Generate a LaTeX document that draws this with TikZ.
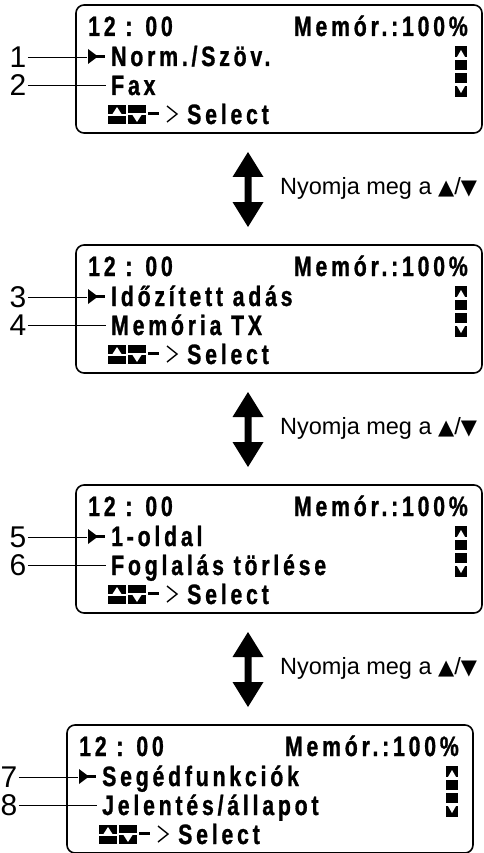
\documentclass[tikz,border=0pt]{standalone}
\usepackage{fontspec}
\setmainfont{Liberation Sans}
\newfontfamily\lcdfont[LetterSpace=13.5,FakeStretch=0.76,
  BoldFeatures={FakeBold=1}]{Liberation Sans}
\newfontfamily\symfont{DejaVu Sans}

\begin{document}
\begin{tikzpicture}[x=1pt,y=-1pt,
lcd/.style = {font=\lcdfont\bfseries\fontsize{28}{30}\selectfont,
     inner sep=0pt, anchor=base west},
lcd R/.style = {lcd, anchor=base east},
callout/.style = {font=\fontsize{30}{32}\selectfont,
     inner sep=0pt, outer sep=1.5pt},
leader/.style = {line width=0.9pt},
frame/.style = {draw, line width=1.6pt, rounded corners=8pt},
hint/.style = {font=\fontsize{23.5}{26}\selectfont,
     inner sep=0pt, anchor=west}]

\useasboundingbox (0,0) rectangle (483,853);

% the four display screens
\foreach \k/\dx/\dy/\la/\lb/\ta/\tb in {1/0/0/1/2/{Norm./Szöv.}/Fax,
    2/0/240/3/4/{Időzített adás}/{Memória TX},
    3/0/480/5/6/1-oldal/{Foglalás törlése},
    4/-9/720/7/8/Segédfunkciók/{Jelentés/állapot}} {
  \begin{scope}[shift={(\dx,\dy)}]
    \draw[frame] (76,5) rectangle (482,133);
    \node[lcd] (time\k) at (88,36) {12 : 00};
    \node[lcd R] (mem\k) at (468,36) {Memór.:100\%};
    % pointer
    \fill (88,49) -- (98,56.5) -- (88,64) -- cycle;
    \fill (96,55) rectangle (105,58);
    \coordinate (tip\k) at (87,57);
    \node[lcd] (rowa\k) at (111,66) {\ta};
    \node[lcd] (rowb\k) at (111,95) {\tb};
    % scroll bar
    \foreach \ya/\yb in {46/57, 60/70, 73/83, 86/97}
      \fill (455,\ya) rectangle (467,\yb);
    \fill[white] (461,50) -- (465,57) -- (457,57) -- cycle;
    \fill[white] (457,86) -- (465,86) -- (461,93) -- cycle;
    % up/down keys -> Select
    \fill (108,105) rectangle (126,124);
    \fill[white] (108,114) rectangle (126,116);
    \fill[white] (117,107) -- (121.5,114) -- (112.5,114) -- cycle;
    \fill (128,105) rectangle (146,124);
    \fill[white] (128,113) rectangle (146,115);
    \fill[white] (132.5,115) -- (141.5,115) -- (137,122) -- cycle;
    \fill (148,112) rectangle (159,115);
    \draw[line width=1.4pt] (167,106) -- (177,114) -- (167,122);
    \node[lcd] (sel\k) at (187,124) {Select};
    % callouts
    \node[callout] (num\la) at (18,57) {\la};
    \node[callout] (num\lb) at (18,85) {\lb};
    \draw[leader] (num\la) -- (tip\k);
    \draw[leader, shorten >=5pt] (num\lb) -- (num\lb -| rowb\k.west);
  \end{scope}
}

% up/down arrows between the screens
\foreach \k in {1,2,3} {
  \begin{scope}[shift={(0,{240*(\k-1)})}]
    \fill (248,152) -- ++(15.5,25) -- ++(-12,0) -- ++(0,25) -- ++(12,0)
      -- ++(-15.5,25) -- ++(-15.5,-25) -- ++(12,0) -- ++(0,-25)
      -- ++(-12,0) -- cycle;
    \node[hint] (hint\k) at (280,188)
      {Nyomja meg a {\symfont\fontsize{21}{22}\selectfont ▲}/{\symfont\fontsize{21}{22}\selectfont ▼}};
  \end{scope}
}

\end{tikzpicture}
\end{document}
